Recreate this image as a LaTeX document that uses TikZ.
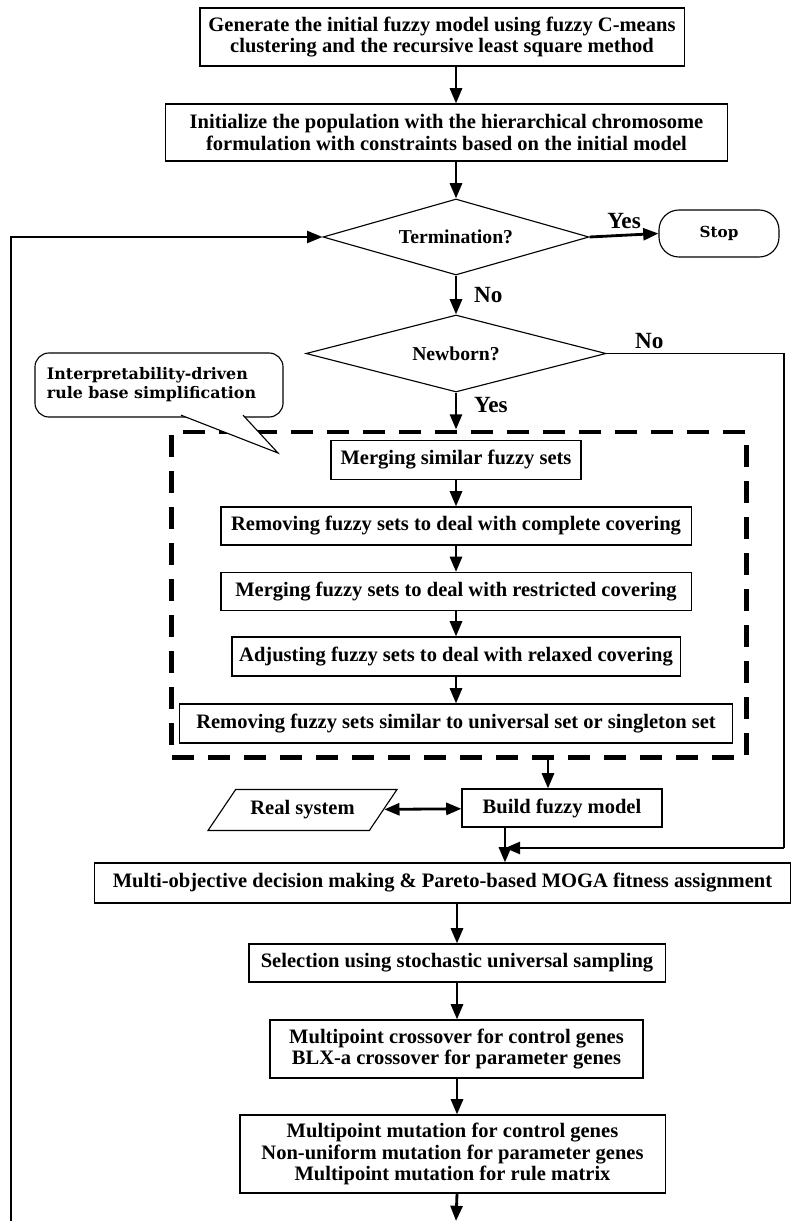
\documentclass[tikz,border=0pt]{standalone}
\usepackage{fontspec}
\setmainfont{Liberation Serif}
\newfontfamily\notefont{DejaVu Serif}
\usetikzlibrary{arrows.meta,shapes.geometric}
\begin{document}
\begin{tikzpicture}[x=0.025cm,y=-0.025cm,
        box/.style={draw,line width=0.8pt,align=center,inner sep=1pt,
                font=\bfseries\fontsize{14.6}{15.4}\selectfont},
        decision/.style={draw,diamond,aspect=3.5,line width=0.8pt,inner sep=0pt,
                font=\bfseries\fontsize{14}{15}\selectfont},
        stopbox/.style={draw,line width=0.8pt,rounded corners=0.5cm,
                font=\notefont\bfseries\fontsize{10.8}{12}\selectfont},
        notebox/.style={draw,line width=0.8pt,rounded corners=0.35cm,align=left,
                text width=5.6cm,font=\notefont\bfseries\fontsize{11.3}{13.5}\selectfont},
        iobox/.style={draw,trapezium,trapezium left angle=50,trapezium right angle=130,
                trapezium stretches=true,line width=0.8pt,
                font=\bfseries\fontsize{14.6}{15.4}\selectfont},
        dashbox/.style={draw,line width=3.5pt,dash pattern=on 0.55cm off 0.35cm},
        arr/.style={line width=2pt,-{Triangle[length=0.38cm,width=0.3cm]}},
        darr/.style={line width=2pt,{Triangle[length=0.38cm,width=0.3cm]}-{Triangle[length=0.38cm,width=0.3cm]}},
        lbl/.style={font=\bfseries\fontsize{16.5}{18}\selectfont}]
        \useasboundingbox (0,0) rectangle (795,1221);
        % initial model and population
        \node[box,minimum width=12.1cm,minimum height=1.45cm] (gen) at (442,37)
                {Generate the initial fuzzy model using fuzzy C-means\\clustering and the recursive least square method};
        \node[box,minimum width=14.025cm,minimum height=1.425cm] (init) at (446.5,132.5)
                {Initialize the population with the hierarchical chromosome\\formulation with constraints based on the initial model};
        % decisions
        \node[decision,minimum width=6.65cm,minimum height=1.9cm] (term) at (456,237) {Termination?};
        \node[stopbox,minimum width=3cm,minimum height=1.175cm] (stop) at (719,233.5) {Stop};
        \node[decision,minimum width=7.5cm,minimum height=1.925cm] (newborn) at (456,353.5) {Newborn?};
        \coordinate (ncorner) at (784,353.5);
        \coordinate (feed) at (784,848);
        % rule base simplification
        \node[notebox,minimum width=6.2cm,minimum height=1.6cm] (note) at (159,385)
                {Interpretability-driven\\rule base simplification};
        \node[dashbox,minimum width=14.35cm,minimum height=8.125cm] (simp) at (459,594.5) {};
        \node[box,minimum width=6.25cm,minimum height=0.975cm] (merge) at (456,460)
                {Merging similar fuzzy sets};
        \node[box,minimum width=11.75cm,minimum height=0.95cm] (complete) at (456,526)
                {Removing fuzzy sets to deal with complete covering};
        \node[box,minimum width=11.75cm,minimum height=0.95cm] (restrict) at (456,591.5)
                {Merging fuzzy sets to deal with restricted covering};
        \node[box,minimum width=11.2cm,minimum height=0.975cm] (relax) at (456,656.5)
                {Adjusting fuzzy sets to deal with relaxed covering};
        \node[box,minimum width=13.8cm,minimum height=0.975cm] (single) at (456,723.5)
                {Removing fuzzy sets similar to universal set or singleton set};
        % model and genetic operators
        \node[iobox,minimum width=4.725cm,minimum height=1.025cm] (real) at (302.5,810) {Real system};
        \node[box,minimum width=5cm,minimum height=0.95cm] (build) at (562,808) {Build fuzzy model};
        \coordinate (bin) at ([xshift=-0.35cm]build.north);
        \coordinate (bout) at ([xshift=-1.425cm]build.south);
        \node[box,minimum width=17.375cm,minimum height=1cm] (moga) at (442.5,883)
                {Multi-objective decision making \& Pareto-based MOGA fitness assignment};
        \node[box,minimum width=10.4cm,minimum height=0.95cm] (select) at (457,963)
                {Selection using stochastic universal sampling};
        \node[box,minimum width=9.325cm,minimum height=1.45cm] (cross) at (456.5,1049)
                {Multipoint crossover for control genes\\BLX-a crossover for parameter genes};
        \node[box,minimum width=10.625cm,minimum height=1.95cm] (mutate) at (452.5,1154)
                {Multipoint mutation for control genes\\Non-uniform mutation for parameter genes\\Multipoint mutation for rule matrix};
        \coordinate (loopend) at (456,1221);
        \coordinate (loopstart) at (11,1221);
        % bubble tail
        \coordinate (tip) at (278,453);
        \draw[line width=0.8pt,fill=white] ([xshift=0.55cm,yshift=0.06cm]note.south) -- (tip)
                -- ([xshift=2.1cm,yshift=0.06cm]note.south);
        % connectors
        \draw[arr] (gen.south -| term) -- (init.north -| term);
        \draw[arr] (init.south -| term) -- (term.north);
        \draw[arr] (term.east) -- node[lbl,above] {Yes} (stop.west);
        \draw[arr] (term.south) -- node[lbl,right,xshift=0.3cm] {No} (newborn.north);
        \draw[line width=0.8pt] (newborn.east) -- node[lbl,above,pos=0.24] {No} (ncorner) -- (feed);
        \draw[arr] (newborn.south) -- node[lbl,right,xshift=0.3cm,pos=0.35] {Yes} (simp.north -| newborn.south);
        \draw[arr] (merge) -- (complete);
        \draw[arr] (complete) -- (restrict);
        \draw[arr] (restrict) -- (relax);
        \draw[arr] (relax) -- (single);
        \draw[arr] (simp.south -| bin) -- (bin);
        \draw[darr] (real) -- (build);
        \draw[arr] (bout) -- (moga.north -| bout);
        \draw[arr] (feed) -- (bout |- feed);
        \draw[arr] (moga.south -| select) -- (select.north);
        \draw[arr] (select.south) -- (cross.north -| select.south);
        \draw[arr] (cross.south -| select) -- (mutate.north -| select);
        \draw[arr] (mutate.south -| select) -- (loopend);
        \draw[line width=1.4pt,-{Triangle[length=0.38cm,width=0.3cm]}] (loopstart) |- (term.west);
\end{tikzpicture}
\end{document}
